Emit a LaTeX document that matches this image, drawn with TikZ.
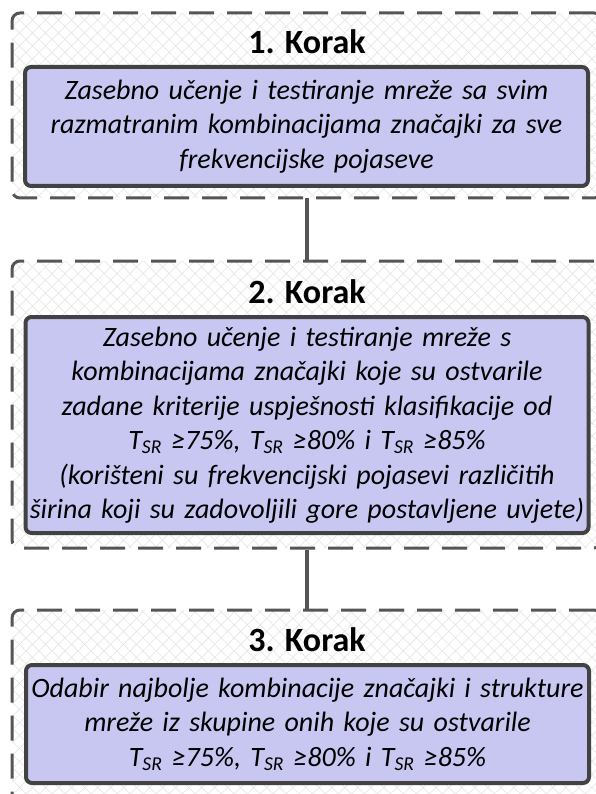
\documentclass[tikz,border=0pt]{standalone}
\usepackage{fontspec}
\setmainfont{Carlito}
\usetikzlibrary{positioning, patterns.meta}
\definecolor{stepFill}{HTML}{C8C7F2}
\definecolor{stepLine}{HTML}{424242}
\definecolor{frameLine}{HTML}{555555}
\definecolor{hatchGray}{HTML}{E6E6E6}
\newcommand{\Tsr}{T\textsubscript{SR}}

\begin{document}
\begin{tikzpicture}[
    x=1pt, y=-1pt,
    every node/.style={align=center},
    stepframe/.style={
        rectangle, rounded corners=8pt,
        draw=frameLine, line width=3pt, dash pattern=on 25pt off 13pt,
        pattern={Hatch[angle=45, distance=9.2pt, line width=0.7pt]}, pattern color=hatchGray,
        minimum width=590pt, inner sep=0pt
    },
    steptitle/.style={font=\fontsize{34}{40}\selectfont\bfseries},
    stepbox/.style={
        rectangle, rounded corners=6pt,
        draw=stepLine, line width=4pt, fill=stepFill,
        font=\fontsize{28}{34.5}\selectfont\itshape,
        minimum width=563pt, text width=559pt, inner sep=0pt
    },
    link/.style={draw=frameLine, line width=4pt},
]
\useasboundingbox (0,0) rectangle (595,794);

% === FRAMES ===
\node[stepframe, minimum height=185pt] (frame1) at (307,105.5) {};
\node[stepframe, minimum height=287pt] (frame2) at (307,404.5) {};
\node[stepframe, minimum height=240pt] (frame3) at (307,730) {};

% === LINKS ===
\draw[link] (frame1.south) -- (frame2.north);
\draw[link] (frame2.south) -- (frame3.north);

% === STEP 1 ===
\node[steptitle] (title1) at (307,42) {1. Korak};
\node[stepbox, minimum height=119pt] (box1) at (306.5,126.5) {
    Zasebno učenje i testiranje mreže sa svim\\
    razmatranim kombinacijama značajki za sve\\
    frekvencijske pojaseve};

% === STEP 2 ===
\node[steptitle] (title2) at (307,292) {2. Korak};
\node[stepbox, minimum height=216pt] (box2) at (307,425) {
    Zasebno učenje i testiranje mreže s\\
    kombinacijama značajki koje su ostvarile\\
    zadane kriterije uspješnosti klasifikacije od\\
    \Tsr{} ≥75\%, \Tsr{} ≥80\% i \Tsr{} ≥85\%\\
    (korišteni su frekvencijski pojasevi različitih\\
    širina koji su zadovoljili gore postavljene uvjete)};

% === STEP 3 ===
\node[steptitle] (title3) at (307,640) {3. Korak};
\node[stepbox, minimum height=118pt] (box3) at (307.5,724) {
    Odabir najbolje kombinacije značajki i strukture\\
    mreže iz skupine onih koje su ostvarile\\
    \Tsr{} ≥75\%, \Tsr{} ≥80\% i \Tsr{} ≥85\%};
\end{tikzpicture}
\end{document}
